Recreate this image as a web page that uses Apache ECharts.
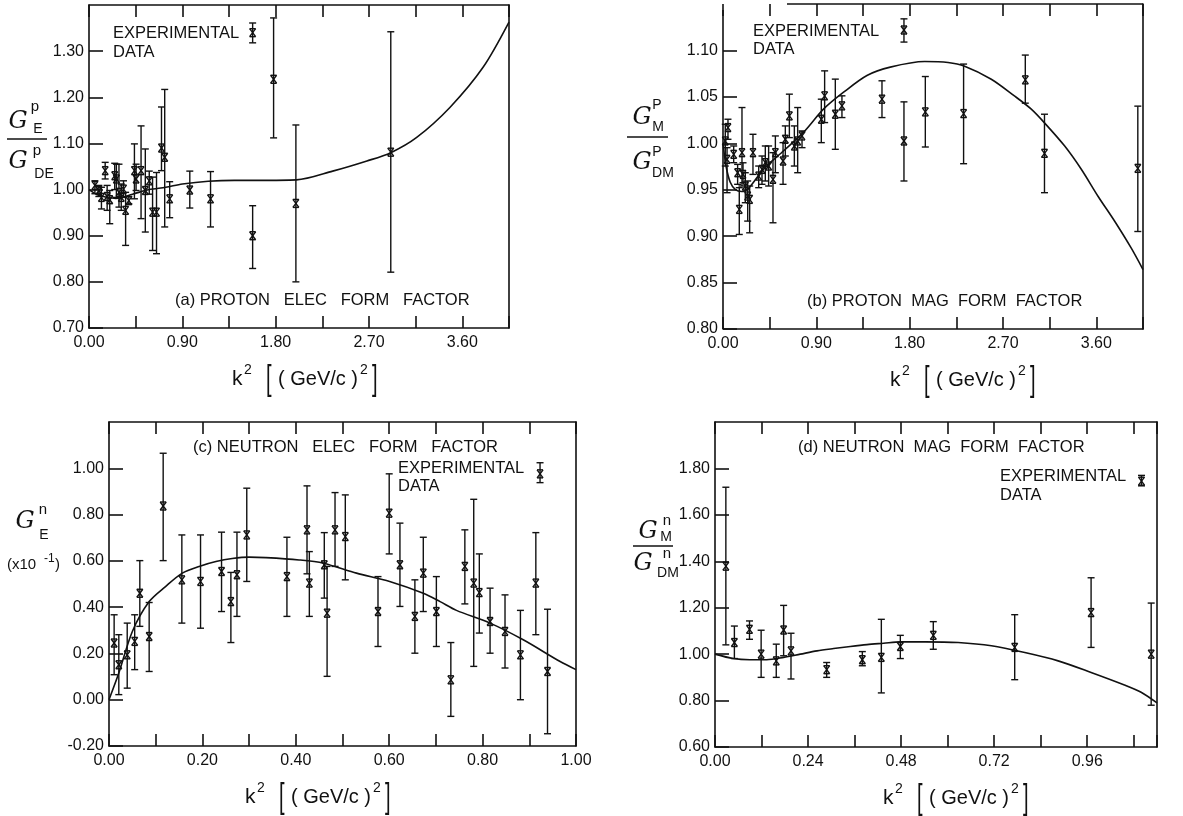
<!DOCTYPE html>
<html><head><meta charset="utf-8">
<script src="https://cdn.jsdelivr.net/npm/echarts@6/dist/echarts.min.js"></script>
<style>html,body{margin:0;padding:0;background:#fff}#c{width:1183px;height:816px}</style>
</head><body><div id="c"></div>
<script>
// ---------- Panel (a) proton electric form factor ----------
const aX  = [0.057,0.095,0.12,0.156,0.175,0.20,0.248,0.264,0.289,0.311,0.333,0.353,0.384,0.438,0.454,0.502,0.543,0.581,0.613,0.651,0.699,0.73,0.778,0.972,1.172,1.578,1.78,1.995,2.91];
const aY  = [1.009,0.998,0.983,1.041,0.985,0.978,1.030,1.023,0.994,0.983,1.001,0.955,0.976,1.041,1.023,1.041,0.998,1.019,0.951,0.951,1.090,1.070,0.980,0.999,0.980,0.900,1.239,0.970,1.081];
const aLo = [0.991,0.985,0.958,1.023,0.955,0.926,1.000,0.983,0.962,0.955,0.983,0.879,0.969,0.980,0.998,0.937,0.908,0.990,0.868,0.861,1.041,0.919,0.939,0.960,0.919,0.829,1.112,0.800,0.821];
const aHi = [1.019,1.009,1.005,1.059,1.009,0.998,1.057,1.055,1.055,1.012,1.019,0.994,0.985,1.099,1.055,1.138,1.088,1.040,1.027,1.037,1.179,1.217,1.017,1.040,1.039,0.965,1.372,1.140,1.342];
const aLeg = [1.578, 1.340, 1.318, 1.361];
const aCurveX = [0,0.1,0.26,0.42,0.58,0.74,0.9,1.15,1.4,1.63,2.0,2.35,2.68,2.91,3.16,3.48,3.8,4.05];
const aCurveY = [1.0,0.987,0.981,0.99,1.0,1.005,1.012,1.018,1.02,1.02,1.021,1.04,1.062,1.08,1.113,1.178,1.265,1.363];

// ---------- Panel (b) proton magnetic form factor ----------
const bX  = [0.022,0.039,0.048,0.103,0.141,0.157,0.183,0.193,0.215,0.238,0.257,0.289,0.344,0.376,0.408,0.44,0.482,0.505,0.579,0.601,0.64,0.688,0.72,0.762,0.948,0.98,1.083,1.147,1.533,1.745,1.951,2.32,2.915,3.10,4.00];
const bY  = [1.0025,0.9827,1.0169,0.9881,0.9683,0.9288,0.9899,0.9665,0.954,0.9432,0.9396,0.9899,0.9647,0.9719,0.9791,0.9755,0.9612,0.9899,0.9809,1.0043,1.0295,0.9971,1.0025,1.0079,1.0259,1.0511,1.0313,1.0403,1.0475,1.0025,1.0338,1.032,1.0683,0.9892,0.973];
const bLo = [0.9755,0.9468,1.0043,0.9791,0.9558,0.9018,0.954,0.9576,0.936,0.9162,0.9036,0.9665,0.9522,0.9558,0.9594,0.954,0.9144,0.9683,0.9558,0.9863,1.0061,0.9755,0.9683,0.9953,1.0007,1.0223,0.9935,1.0277,1.0277,0.9594,0.996,0.978,1.0432,0.9468,0.905];
const bHi = [1.0205,0.9953,1.0259,0.9971,0.9773,0.9522,1.0385,0.979,0.9683,0.9594,0.954,1.0097,0.9755,0.9863,0.9971,0.9971,0.9899,1.0079,1.0007,1.0187,1.0529,1.0187,1.0385,1.0133,1.0475,1.078,1.0691,1.0511,1.0673,1.0446,1.0719,1.0853,1.095,1.0313,1.040];
const bLeg = [1.745, 1.122, 1.109, 1.134];
const bCurveX = [0,0.03,0.07,0.12,0.18,0.25,0.39,0.585,0.778,0.971,1.163,1.388,1.613,1.945,2.17,2.33,2.587,2.81,2.97,3.10,3.295,3.455,3.616,3.777,3.937,4.05];
const bCurveY = [1.0,0.975,0.958,0.95,0.948,0.952,0.972,0.992,1.012,1.037,1.055,1.073,1.082,1.088,1.087,1.083,1.069,1.051,1.037,1.022,0.997,0.972,0.943,0.916,0.887,0.864];

// ---------- Panel (c) neutron electric form factor ----------
const cX  = [0.011,0.021,0.039,0.055,0.066,0.086,0.116,0.156,0.196,0.241,0.261,0.274,0.295,0.381,0.424,0.429,0.461,0.467,0.484,0.506,0.576,0.600,0.623,0.655,0.673,0.701,0.732,0.762,0.781,0.793,0.816,0.848,0.881,0.914,0.939];
const cY  = [0.245,0.151,0.194,0.252,0.460,0.273,0.837,0.518,0.511,0.554,0.424,0.540,0.712,0.532,0.734,0.504,0.583,0.374,0.734,0.705,0.381,0.806,0.583,0.360,0.547,0.381,0.086,0.576,0.504,0.463,0.338,0.295,0.194,0.504,0.122];
const cLo = [0.108,0.022,0.050,0.130,0.317,0.122,0.601,0.331,0.309,0.381,0.247,0.360,0.511,0.360,0.544,0.360,0.439,0.101,0.576,0.518,0.230,0.630,0.403,0.201,0.381,0.230,-0.072,0.414,0.144,0.288,0.201,0.137,0.000,0.281,-0.147];
const cHi = [0.367,0.281,0.331,0.367,0.601,0.420,1.065,0.712,0.712,0.724,0.550,0.724,0.914,0.702,0.924,0.640,0.722,0.576,0.895,0.885,0.532,0.976,0.763,0.518,0.702,0.532,0.247,0.734,0.866,0.630,0.482,0.453,0.386,0.722,0.391];
const cLeg = [0.923, 0.976, 0.938, 1.024];
const cCurveX = [0,0.021,0.05,0.086,0.121,0.157,0.193,0.229,0.264,0.30,0.336,0.407,0.459,0.53,0.601,0.673,0.709,0.744,0.816,0.887,0.966,1.0];
const cCurveY = [0,0.115,0.295,0.424,0.489,0.547,0.576,0.597,0.61,0.616,0.614,0.604,0.59,0.547,0.511,0.46,0.424,0.386,0.331,0.259,0.165,0.13];

// ---------- Panel (d) neutron magnetic form factor ----------
const dX  = [0.028,0.050,0.089,0.119,0.158,0.177,0.196,0.288,0.380,0.429,0.478,0.563,0.773,0.970,1.125];
const dY  = [1.379,1.050,1.107,1.000,0.971,1.104,1.014,0.933,0.976,0.986,1.033,1.081,1.029,1.179,1.000];
const dLo = [1.040,0.981,1.064,0.900,0.900,0.993,0.893,0.900,0.950,0.833,0.981,1.021,0.890,1.029,0.780];
const dHi = [1.719,1.121,1.143,1.103,1.043,1.210,1.090,0.964,1.011,1.150,1.081,1.140,1.170,1.329,1.220];
const dLeg = [1.10, 1.745, 1.725, 1.770];
const dCurveX = [0,0.047,0.09,0.133,0.177,0.22,0.263,0.306,0.349,0.392,0.435,0.478,0.542,0.627,0.713,0.799,0.885,0.97,1.056,1.099,1.14];
const dCurveY = [1.0,0.981,0.976,0.976,0.986,1.0,1.014,1.024,1.033,1.041,1.047,1.053,1.053,1.05,1.036,1.007,0.971,0.921,0.867,0.836,0.79];

// axis ranges: [min, max, tick interval, label every n ticks]
const xRanges = [[0,4.05,0.45,2],[0,4.05,0.45,2],[0,1.00,0.10,2],[0,1.14,0.12,2]];
const yRanges = [[0.70,1.40,0.10],[0.80,1.15,0.05],[-0.20,1.20,0.20],[0.60,2.00,0.20]];

const FONT = '"Liberation Sans", Arial, sans-serif';
const INK = '#111';
const grids = [
  {left:89, top:5, width:420, height:323},
  {left:723, top:4, width:420, height:325},
  {left:109, top:422, width:467, height:324},
  {left:715, top:422, width:442, height:325}
];

const xAxis = [], yAxis = [], series = [];
const lineSt = {color:INK, width:1.6};
grids.forEach((g, gi) => {
  const [xmin,xmax,xint,every] = xRanges[gi];
  const [ymin,ymax,yint] = yRanges[gi];
  const fmtX = v => {
    const k = v / xint;
    if (Math.abs(k - Math.round(k)) > 1e-6) return '';
    return (Math.round(k) % every === 0) ? (Math.abs(v)<1e-9?0:v).toFixed(2) : '';
  };
  const cutB = gi === 1;
  xAxis.push({type:'value', gridIndex:gi, min:xmin, max:xmax, interval:xint, position:'bottom',
    axisLine:{show:true,onZero:false,lineStyle:lineSt},
    axisTick:{show:true,inside:true,length:12,lineStyle:lineSt},
    splitLine:{show:false},
    axisLabel:{show:true,margin:7,color:INK,fontSize:16,fontFamily:FONT,formatter:fmtX}});
  xAxis.push({type:'value', gridIndex:gi, min:xmin, max:xmax, interval:xint, position:'top',
    axisLine:{show:!cutB,onZero:false,lineStyle:lineSt},
    axisTick:{show:true,inside:true,length:12,lineStyle:lineSt},
    splitLine:{show:false}, axisLabel:{show:false}});
  yAxis.push({type:'value', gridIndex:gi, min:ymin, max:ymax, interval:yint, position:'left',
    axisLine:{show:!cutB,onZero:false,lineStyle:lineSt},
    axisTick:{show:true,inside:true,length:14,lineStyle:lineSt},
    splitLine:{show:false},
    axisLabel:{show:true,margin:5,color:INK,fontSize:16,fontFamily:FONT,showMaxLabel:false,
      formatter:v => (Math.abs(v)<1e-9?0:v).toFixed(2)}});
  yAxis.push({type:'value', gridIndex:gi, min:ymin, max:ymax, interval:yint, position:'right',
    axisLine:{show:true,onZero:false,lineStyle:lineSt},
    axisTick:{show:false}, splitLine:{show:false}, axisLabel:{show:false}});
});

function errItem(params, api) {
  const x = api.value(0), y = api.value(1), lo = api.value(2), hi = api.value(3);
  const p = api.coord([x, y]), pl = api.coord([x, lo]), ph = api.coord([x, hi]);
  const cap = 3.5, m = 3, h = 4;
  const st = {stroke:INK, lineWidth:1.4, fill:null};
  const L = (x1,y1,x2,y2) => ({type:'line', shape:{x1,y1,x2,y2}, style:st});
  return {type:'group', children:[
    L(p[0], ph[1], p[0], pl[1]),
    L(p[0]-cap, ph[1], p[0]+cap, ph[1]),
    L(p[0]-cap, pl[1], p[0]+cap, pl[1]),
    L(p[0]-m, p[1]-h, p[0]+m, p[1]+h),
    L(p[0]+m, p[1]-h, p[0]-m, p[1]+h),
    L(p[0]-m, p[1]-h, p[0]+m, p[1]-h),
    L(p[0]-m, p[1]+h, p[0]+m, p[1]+h)
  ]};
}

const panels = [
  [aX,aY,aLo,aHi,aLeg,aCurveX,aCurveY],
  [bX,bY,bLo,bHi,bLeg,bCurveX,bCurveY],
  [cX,cY,cLo,cHi,cLeg,cCurveX,cCurveY],
  [dX,dY,dLo,dHi,dLeg,dCurveX,dCurveY]
];
panels.forEach((P, gi) => {
  const [X,Y,Lo,Hi,Leg,CX,CY] = P;
  series.push({type:'line', xAxisIndex:2*gi, yAxisIndex:2*gi, data:CX.map((v,i)=>[v,CY[i]]),
    smooth:0.3, showSymbol:false, symbol:'none', lineStyle:{color:INK,width:1.6}, clip:false, silent:true, z:2});
  series.push({type:'custom', xAxisIndex:2*gi, yAxisIndex:2*gi, renderItem:errItem, clip:false,
    encode:{x:0,y:1}, data:X.map((v,i)=>[v,Y[i],Lo[i],Hi[i]]), z:3});
  series.push({type:'custom', xAxisIndex:2*gi, yAxisIndex:2*gi, renderItem:errItem, clip:false,
    encode:{x:0,y:1}, data:[Leg], z:3});
});

// ---------- text and frame pieces ----------
const G = [];
function txt(x, y, s, size, o) {
  o = o || {};
  const font = `${o.italic?'italic ':''}${o.weight||'normal'} ${size}px ${o.family||FONT}`;
  const el = {type:'text', x, y, z:100, silent:true,
    style:{text:s, fill:INK, font, textAlign:o.align||'left', textVerticalAlign:'middle',
           align:o.align||'left', verticalAlign:'middle'}};
  if (o.scaleY) { el.scaleY = o.scaleY; }
  G.push(el);
}
function seg(x1, y1, x2, y2) {
  G.push({type:'line', z:100, silent:true, shape:{x1, y1, x2, y2}, style:{stroke:INK, lineWidth:1.6}});
}
const SERIF = '"DejaVu Serif", "Liberation Serif", serif';
function gsym(x, y) { txt(x, y, 'G', 24, {italic:true, family:SERIF, align:'center'}); }

// panel (b) frame: top border and left axis are cut short in the original
seg(787, 4, 1143, 4);
seg(723, 10, 723, 329);

// y-axis titles
gsym(18,122); txt(35,107,'p',15,{align:'center'}); txt(38,129,'E',14,{align:'center'});
seg(7,139,47,139);
gsym(18,162); txt(37,151,'p',15,{align:'center'}); txt(44,174,'DE',14,{align:'center'});

gsym(642,118); txt(657,105,'P',14,{align:'center'}); txt(658,127,'M',14,{align:'center'});
seg(627,137,668,137);
gsym(642,163); txt(657,152,'P',14,{align:'center'}); txt(663,173,'DM',14,{align:'center'});

gsym(25,522); txt(43,510,'n',15,{align:'center'}); txt(44,535,'E',14,{align:'center'});
txt(7,565,'(x10',15); txt(44,559,'-1',12); txt(55,565,')',15);

gsym(648,532); txt(667,521,'n',15,{align:'center'}); txt(666,537,'M',14,{align:'center'});
seg(633,546,673,546);
gsym(643,564); txt(667,554,'n',15,{align:'center'}); txt(668,573,'DM',14,{align:'center'});

// x-axis titles
function kTitle(xk, y) {
  txt(xk, y, 'k', 21);
  txt(xk+12, y-9, '2', 14);
  txt(xk+34, y+1, '[', 20, {scaleY:1.8});
  txt(xk+46, y, '( GeV/c )', 20);
  txt(xk+128, y-9, '2', 14);
  txt(xk+140, y+1, ']', 20, {scaleY:1.8});
}
kTitle(232, 379);
kTitle(890, 380);
kTitle(245, 797);
kTitle(883, 798);

// panel captions and legend texts
txt(175,300,'(a) PROTON   ELEC   FORM   FACTOR',16.5);
txt(807,301,'(b) PROTON  MAG  FORM  FACTOR',16.5);
txt(193,447,'(c) NEUTRON   ELEC   FORM   FACTOR',16.5);
txt(798,447,'(d) NEUTRON  MAG  FORM  FACTOR',16.5);

txt(113,33,'EXPERIMENTAL',16.5); txt(113,52,'DATA',16.5);
txt(753,31,'EXPERIMENTAL',16.5); txt(753,49,'DATA',16.5);
txt(398,468,'EXPERIMENTAL',16.5); txt(398,486,'DATA',16.5);
txt(1000,476,'EXPERIMENTAL',16.5); txt(1000,495,'DATA',16.5);

const chart = echarts.init(document.getElementById('c'), null, {renderer:'canvas'});
chart.setOption({
  animation:false,
  backgroundColor:'#ffffff',
  grid:grids.map(g => Object.assign({containLabel:false}, g)),
  xAxis, yAxis, series, graphic:G
});
</script></body></html>
